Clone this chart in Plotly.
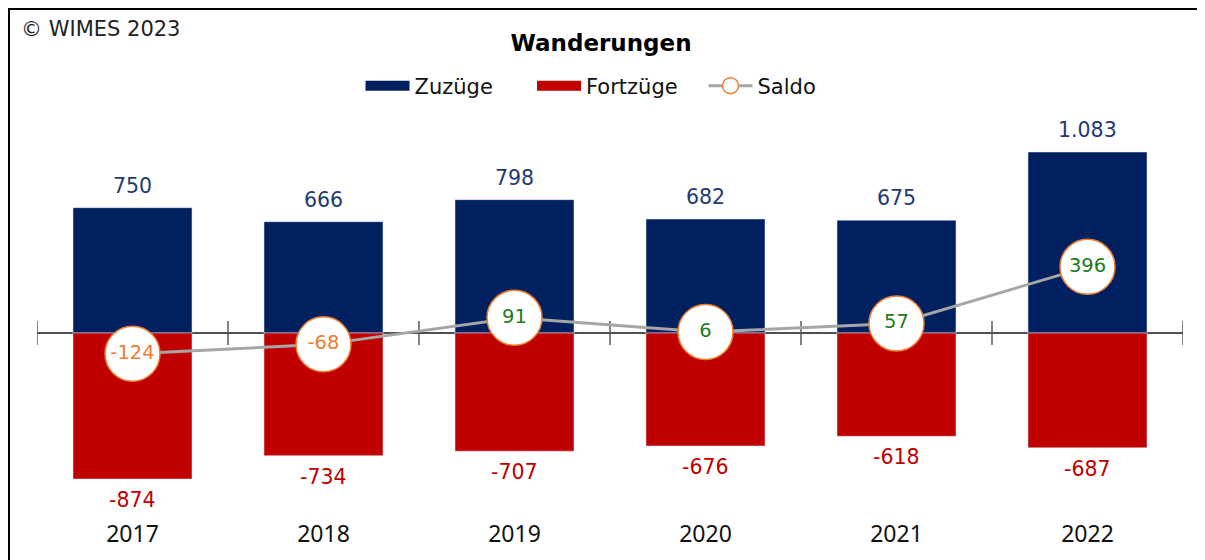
import plotly.graph_objects as go

years = ["2017", "2018", "2019", "2020", "2021", "2022"]
zuzuege = [750, 666, 798, 682, 675, 1083]
fortzuege = [-874, -734, -707, -676, -618, -687]
saldo = [-124, -68, 91, 6, 57, 396]
boundaries = [-0.5, 0.5, 1.5, 2.5, 3.5, 4.5, 5.5]

def fmt(v):
    return f"{v:,}".replace(",", ".")

x = list(range(len(years)))
FONT = "DejaVu Sans"
NAVY = "#002060"
RED = "#C00000"
ORANGE = "#ED7D31"
GREEN = "#1E7B1E"

fig = go.Figure()
fig.add_trace(go.Bar(x=x, y=zuzuege, name="Zuzüge", marker_color=NAVY,
                     width=0.623, hoverinfo="skip", showlegend=False))
fig.add_trace(go.Bar(x=x, y=fortzuege, name="Fortzüge", marker_color=RED,
                     width=0.623, hoverinfo="skip", showlegend=False))
# legend entries drawn as wide bands
fig.add_trace(go.Scatter(x=[None], y=[None], mode="lines", name="Zuzüge",
                         line=dict(color=NAVY, width=12)))
fig.add_trace(go.Scatter(x=[None], y=[None], mode="lines", name="Fortzüge",
                         line=dict(color=RED, width=12)))
# axis tick marks crossing the zero line
fig.add_trace(go.Scatter(x=boundaries, y=[0] * len(boundaries), mode="markers",
                         marker=dict(symbol="line-ns", size=17,
                                     line=dict(color="#595959", width=1.5)),
                         showlegend=False, hoverinfo="skip"))
fig.add_trace(go.Scatter(
    x=x, y=saldo, name="Saldo", mode="lines+markers+text",
    line=dict(color="#A6A6A6", width=3),
    marker=dict(size=55, color="white", line=dict(color=ORANGE, width=1.5)),
    text=[fmt(v) for v in saldo], textposition="middle center",
    textfont=dict(family=FONT, size=19.5,
                  color=[GREEN if v >= 0 else ORANGE for v in saldo]),
    hoverinfo="skip"))

annotations = []
for i, v in enumerate(zuzuege):
    annotations.append(dict(x=i, y=v, xref="x", yref="y", text=fmt(v), showarrow=False,
                            yanchor="middle", yshift=22,
                            font=dict(family=FONT, size=20.5, color="#1F3A70")))
for i, v in enumerate(fortzuege):
    annotations.append(dict(x=i, y=v, xref="x", yref="y", text=fmt(v), showarrow=False,
                            yanchor="middle", yshift=-21,
                            font=dict(family=FONT, size=20.5, color=RED)))
annotations.append(dict(x=-0.0157, y=1.1985, xref="paper", yref="paper",
                        text="© WIMES 2023", showarrow=False, xanchor="left",
                        yanchor="middle", font=dict(family=FONT, size=21, color="#222222")))

fig.update_layout(
    width=1197, height=552,
    margin=dict(l=29, r=22, t=102, b=42),
    paper_bgcolor="white", plot_bgcolor="white",
    barmode="overlay",
    title=dict(text="<b>Wanderungen</b>", x=0.4954, xref="container", y=0.9366,
               yref="container", xanchor="center", yanchor="middle",
               font=dict(family=FONT, size=23, color="black")),
    legend=dict(orientation="h", x=0.507, xanchor="center", y=1.0588, yanchor="middle",
                font=dict(family=FONT, size=21, color="#111111"),
                itemwidth=44, entrywidth=112.5, entrywidthmode="pixels",
                traceorder="normal", bgcolor="rgba(0,0,0,0)"),
    xaxis=dict(range=[-0.5, 5.5], tickvals=x, ticktext=years, showgrid=False,
               zeroline=False, showline=False, ticks="",
               tickfont=dict(family="Noto Sans", size=23, color="#111111")),
    yaxis=dict(range=[-1107, 1334.5], showgrid=False, zeroline=True,
               zerolinecolor="#505050", zerolinewidth=1.5, showticklabels=False,
               showline=False, ticks=""),
    annotations=annotations,
    shapes=[dict(type="rect", xref="paper", yref="paper", x0=-0.02443, x1=1.2,
                 y0=-0.3, y1=1.2475, line=dict(color="black", width=2),
                 fillcolor="rgba(0,0,0,0)", layer="above")],
)

fig.write_html("out.html")
